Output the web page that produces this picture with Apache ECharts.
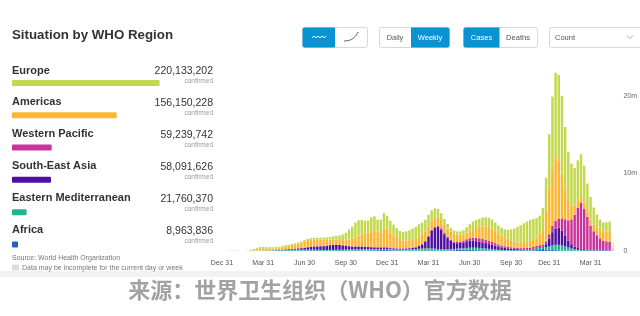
<!DOCTYPE html>
<html><head><meta charset="utf-8">
<script src="https://cdn.jsdelivr.net/npm/echarts@6/dist/echarts.min.js"></script>
<style>html,body{margin:0;padding:0;background:#fff}#c{width:640px;height:316px}</style>
</head><body><div id="c"></div><script>
// ---- data (weekly new cases, thousands) ----
const africa = [
0,0,0,0,0,0,0,0,0,0,
0,1,1,2,3,4,5,6,8,10,
12,15,18,22,28,35,45,55,65,75,
80,75,65,55,45,40,35,30,28,25,
25,27,30,32,35,38,42,45,50,60,
80,100,120,130,120,100,80,60,45,38,
32,30,28,27,27,26,25,24,24,25,
28,32,40,55,75,100,130,150,165,160,
140,120,100,85,75,65,55,45,35,28,
22,18,15,14,14,14,15,20,20,40,
100,200,280,260,220,170,130,100,80,60,
45,35,28,22,19,17,16,16,17,20,
25,30,35,40,45,12];
const easternMed = [
0,0,0,0,0,0,0,0,0,1,
6,12,18,22,25,25,28,35,45,60,
75,95,115,130,140,135,125,115,110,105,
100,95,90,90,90,95,100,110,120,130,
140,150,160,175,190,205,210,200,190,180,
170,150,140,135,130,125,125,125,135,150,
165,180,200,230,260,300,320,330,310,280,
230,190,165,160,165,170,175,180,200,240,
280,310,320,310,290,260,230,200,170,140,
120,105,95,90,85,80,80,80,85,90,
100,110,130,180,300,450,600,700,720,650,
550,420,300,220,160,120,95,80,70,60,
55,50,45,40,38,10];
const seAsia = [
0,0,0,0,0,0,0,0,0,0,
0,1,2,4,8,12,18,25,30,40,
50,60,75,90,110,130,160,190,230,290,
350,390,420,450,490,540,600,650,660,620,
560,500,420,360,340,320,300,290,270,240,
200,170,160,160,150,130,120,110,105,110,
120,130,160,200,350,500,850,1500,2300,2700,
2850,2550,1950,1450,1050,800,700,700,750,850,
900,900,850,800,750,700,600,550,480,400,
330,280,240,200,170,150,115,105,100,95,
90,90,95,130,350,1000,1700,2100,2200,1900,
1400,900,550,330,220,160,120,95,80,70,
60,55,55,60,70,20];
const westPac = [
0,0,0,2,10,18,18,10,4,3,
3,5,8,12,13,10,7,5,4,4,
5,6,7,8,10,12,16,22,30,40,
50,55,55,50,45,40,35,33,30,28,
30,30,32,35,40,45,55,60,65,70,
75,80,90,100,95,85,75,65,55,50,
50,55,60,65,70,80,95,105,120,140,
160,170,175,170,160,155,160,175,210,270,
330,380,430,450,440,420,400,370,330,280,
240,210,190,175,170,165,165,170,190,210,
230,240,250,280,380,550,800,1000,1200,1600,
2100,2600,3200,4100,5200,5900,5200,4200,3100,2400,
1900,1500,1200,1100,1050,280];
const americas = [
0,0,0,0,0,0,0,0,0,0,
1,8,40,110,200,230,220,220,230,250,
280,320,400,440,480,540,620,720,820,900,
920,900,880,850,800,750,700,660,640,630,
650,700,850,950,1150,1350,1550,1650,1800,2050,
2200,2000,1900,2500,2300,1950,1700,1450,1200,1000,
1000,1000,1000,1050,1100,1150,1200,1250,1200,1150,
1100,1050,1050,1050,1050,1000,950,900,850,850,
950,1100,1250,1450,1600,1700,1800,1750,1600,1450,
1300,1150,1000,900,750,700,750,800,800,850,
950,1100,1400,1900,3800,6000,7400,8200,7500,5800,
4000,2600,1700,1200,950,850,780,760,800,850,
950,1050,1150,1250,1350,380];
const europe = [
0,0,0,0,0,0,0,0,1,5,
25,90,190,250,260,245,230,200,175,155,
140,130,125,125,130,135,140,140,145,150,
160,175,200,230,255,290,340,400,480,580,
720,940,1300,1600,1900,2000,1850,1650,1550,1750,
1750,1550,1650,1850,1750,1500,1300,1150,1050,1100,
1150,1300,1450,1550,1650,1600,1550,1450,1300,1200,
1050,900,750,600,480,420,400,420,500,700,
850,1000,1050,1050,1150,1200,1200,1150,1050,1000,
1000,1050,1200,1400,1700,2000,2200,2400,2600,2700,
2650,2500,2400,2800,4400,6900,9300,10900,11000,10000,
7900,6200,5500,4830,5150,5450,4790,3550,2900,2200,
1700,1350,1200,1200,1250,450];

const regionNames = ['Europe','Americas','Western Pacific','South-East Asia','Eastern Mediterranean','Africa'];
const regionTotals = [220133202,156150228,59239742,58091626,21760370,8963836];
const xTickIndex = [2,15,28,41,54,67,80,93,105,118];
const xTickLabels = ['Dec 31','Mar 31','Jun 30','Sep 30','Dec 31','Mar 31','Jun 30','Sep 30','Dec 31','Mar 31'];
const yTicks = [0,10000,20000];

// ---- styles ----
const regionColors = ['#c3d84f','#fbb634','#c7359b','#4c109f','#1db594','#1e63c6'];
const FONT = '"Liberation Sans", Arial, Helvetica, sans-serif';
const BLUE = '#0a93d3';

const N = europe.length;
const start = Date.UTC(2019,11,30);
const categories = [];
for (let i = 0; i < N; i++) categories.push(new Date(start + i*7*86400000).toISOString().slice(0,10));

function toData(arr){
  return arr.map((v,i)=> i===arr.length-1 ? {value:v, itemStyle:{opacity:0.35}} : v);
}
const stackOrder = [
  ['Africa', africa, regionColors[5]],
  ['Eastern Mediterranean', easternMed, regionColors[4]],
  ['South-East Asia', seAsia, regionColors[3]],
  ['Western Pacific', westPac, regionColors[2]],
  ['Americas', americas, regionColors[1]],
  ['Europe', europe, regionColors[0]]
];
const series = stackOrder.map(([name, arr, color]) => ({
  type:'bar', name, stack:'all', data: toData(arr), xAxisIndex:0, yAxisIndex:0,
  barCategoryGap:'22%', itemStyle:{color}, silent:true
}));
series.push({
  type:'bar', xAxisIndex:1, yAxisIndex:1, barWidth:6, silent:true,
  data: regionTotals.map((v,i)=>({value:v, itemStyle:{color:regionColors[i], borderRadius:1}}))
});

// ---- graphics ----
const g = [];
function txt(x,y,text,font,fill,align,valign,z){
  g.push({type:'text', x, y, z: z||10, style:{text, font, fill, textAlign:align||'left', textVerticalAlign:valign||'middle', align:align||'left', verticalAlign:valign||'middle'}});
}
function rect(x,y,w,h,fill,stroke,r,z){
  g.push({type:'rect', z: z||5, shape:{x,y,width:w,height:h,r:r||0}, style:{fill, stroke: stroke||null, lineWidth: stroke?1:0}});
}
txt(12,35.5,'Situation by WHO Region','bold 13.3px '+FONT,'#333');
const rowY = [70.5,102,134,166,198,230];
regionNames.forEach((n,i)=>{
  txt(12,rowY[i],n,'bold 11px '+FONT,'#333');
  txt(213,rowY[i]+1,regionTotals[i].toLocaleString('en-US'),'10.5px '+FONT,'#333','right');
  txt(213,rowY[i]+11,'confirmed','6.5px '+FONT,'#999','right');
});
txt(12,258,'Source: World Health Organization','7px '+FONT,'#777');
rect(12,264.5,7,6,'#ddd',null,0,6);
txt(22,268,'Data may be incomplete for the current day or week','7px '+FONT,'#777');
rect(0,271,640,6,'#f2f2f2',null,0,8);
txt(320,290,'来源：世界卫生组织（WHO）官方数据','bold 22px "Noto Sans CJK SC", sans-serif','#a2a2a2','center');

// buttons
rect(302.5,27.5,65,20,'#fff','#d8d8d8',2);
rect(302.5,27.5,32.5,20,BLUE,null,[2,0,0,2],6);
g.push({type:'polyline', z:7, shape:{points:[[312,37.5],[314,36.2],[316,37.8],[318,36],[320,37.8],[322,36.2],[324,37.5],[326,36.5]]}, style:{stroke:'#fff', lineWidth:1, fill:null}});
g.push({type:'bezierCurve', z:7, shape:{x1:344,y1:41,x2:358,y2:32,cpx1:353,cpy1:41,cpx2:356,cpy2:36}, style:{stroke:'#666', lineWidth:1, fill:null}});
rect(379.5,27.5,70,20,'#fff','#d8d8d8',2);
rect(411,27.5,38.5,20,BLUE,null,[0,2,2,0],6);
txt(395,37.5,'Daily','7.5px '+FONT,'#555','center');
txt(430,37.5,'Weekly','7.5px '+FONT,'#fff','center');
rect(463.5,27.5,74,20,'#fff','#d8d8d8',2);
rect(463.5,27.5,36,20,BLUE,null,[2,0,0,2],6);
txt(481.5,37.5,'Cases','7.5px '+FONT,'#fff','center');
txt(518,37.5,'Deaths','7.5px '+FONT,'#555','center');
rect(549.5,27.5,100,20,'#fff','#d8d8d8',2);
txt(555,37.5,'Count','7.5px '+FONT,'#555');
g.push({type:'polyline', z:7, shape:{points:[[627,35.5],[630,38.5],[633,35.5]]}, style:{stroke:'#aaa', lineWidth:1, fill:null}});

const chart = echarts.init(document.getElementById('c'));
chart.setOption({
  animation:false,
  backgroundColor:'#fff',
  grid:[
    {left:214, right:22, top:18.5, bottom:65},
    {left:12, width:147.6, top:66.8, height:193.8}
  ],
  xAxis:[
    {type:'category', gridIndex:0, data:categories, axisLine:{show:false}, axisTick:{show:false},
     axisLabel:{interval:(idx)=>xTickIndex.includes(idx), formatter:(v,idx)=>{const k=xTickIndex.indexOf(idx);return k>=0?xTickLabels[k]:'';},
       fontSize:7, color:'#555', fontFamily:FONT, margin:9, hideOverlap:false}},
    {type:'value', gridIndex:1, min:0, max:regionTotals[0], show:false}
  ],
  yAxis:[
    {type:'value', gridIndex:0, position:'right', min:0, max:30000, interval:10000, splitLine:{show:false},
     axisLine:{show:false}, axisTick:{show:false},
     axisLabel:{formatter:(v)=> yTicks.includes(v) ? (v===0?'0':(v/1000)+'m') : '', fontSize:7, color:'#666', fontFamily:FONT, margin:9}},
    {type:'category', gridIndex:1, data:regionNames, inverse:true, show:false}
  ],
  series,
  graphic:{elements:g}
});
</script></body></html>
